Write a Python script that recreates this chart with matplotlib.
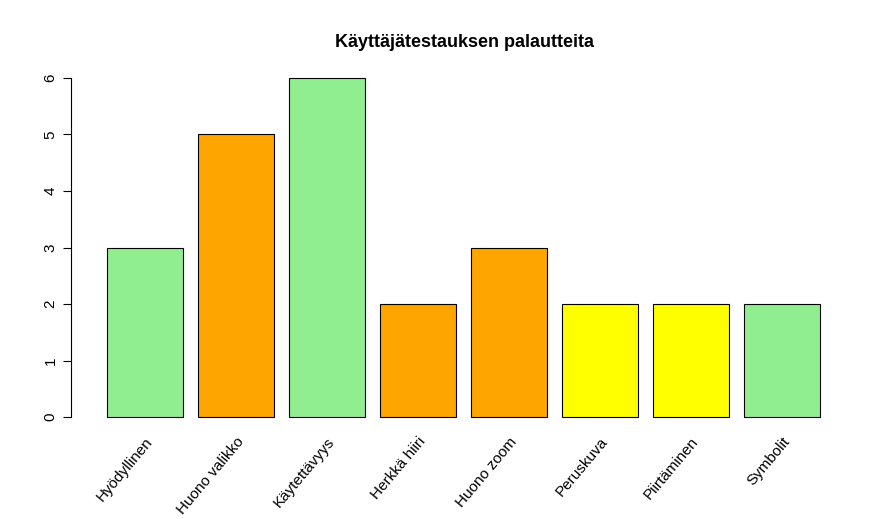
import matplotlib
matplotlib.use("Agg")
import matplotlib.pyplot as plt

categories = ["Hyödyllinen", "Huono valikko", "Käytettävyys", "Herkkä hiiri",
              "Huono zoom", "Peruskuva", "Piirtäminen", "Symbolit"]
values = [3, 5, 6, 2, 3, 2, 2, 2]
colors = ["#90EE90", "#FFA500", "#90EE90", "#FFA500", "#FFA500", "#FFFF00", "#FFFF00", "#90EE90"]

plt.rcParams['font.family'] = ['Liberation Sans', 'DejaVu Sans']
fig = plt.figure(figsize=(8.89, 5.19), dpi=100)
ax = fig.add_axes([0.0875, 0.1703, 0.9717 - 0.0875, 0.8759 - 0.1703])
xs = [0.7 + 1.2 * i for i in range(len(values))]
ax.bar(xs, values, width=1.0, color=colors, edgecolor="black", linewidth=0.8)
ax.set_xlim(-0.184, 10.184)
ax.set_ylim(-0.24, 6.24)
for s in ["top", "right", "bottom"]:
    ax.spines[s].set_visible(False)
ax.spines["left"].set_bounds(0, 6)
ax.spines["left"].set_position(("outward", 5))
ax.set_yticks(range(7))
ax.set_yticklabels([str(i) for i in range(7)], rotation=90, va="center", fontsize=11)
ax.tick_params(axis="y", length=6)
ax.set_xticks(xs)
ax.set_xticklabels(categories, rotation=50, ha="right", rotation_mode="anchor", fontsize=11)
ax.tick_params(axis="x", length=0, pad=3)
fig.text(0.523, 0.918, "Käyttäjätestauksen palautteita", ha="center", va="center",
         fontsize=13, fontweight="bold")
fig.savefig("out.png", dpi=100)
